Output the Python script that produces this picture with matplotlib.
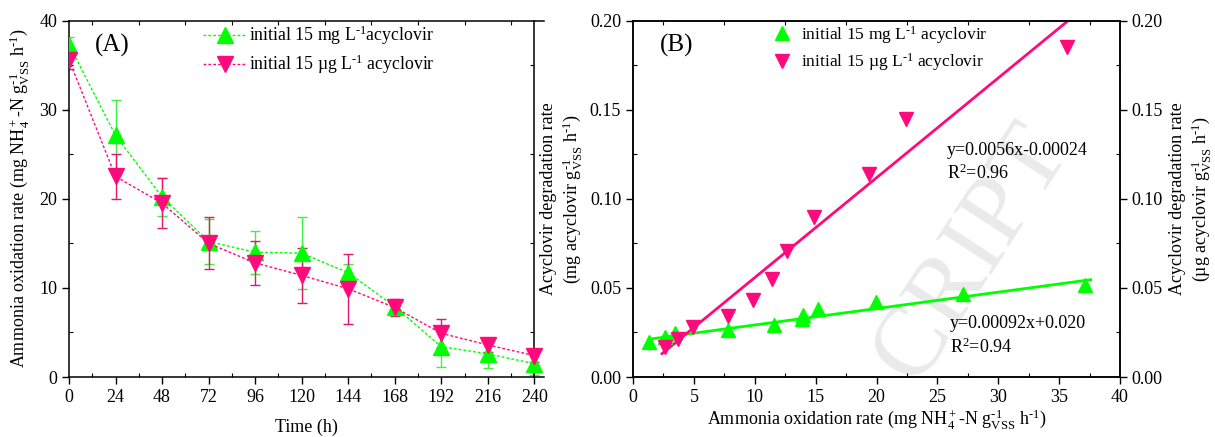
import numpy as np
import matplotlib
matplotlib.use("Agg")
import matplotlib.pyplot as plt
from matplotlib.ticker import MultipleLocator, FormatStrFormatter

plt.rcParams['font.family'] = ['Liberation Serif', 'DejaVu Serif']
plt.rcParams['mathtext.fontset'] = 'custom'
plt.rcParams['mathtext.rm'] = 'Liberation Serif'
plt.rcParams['mathtext.it'] = 'Liberation Serif:italic'
plt.rcParams['mathtext.bf'] = 'Liberation Serif:bold'

# ---------------- data ----------------
time_h = [0, 24, 48, 72, 96, 120, 144, 168, 192, 216, 240]
aor_mg = [37.3, 27.1, 20.2, 15.2, 14.0, 13.9, 11.7, 7.9, 3.4, 2.6, 1.5]
err_mg = [0.8, 4.0, 2.1, 2.5, 2.4, 4.0, 1.0, 0.7, 2.3, 1.6, 1.3]
aor_ug = [35.6, 22.5, 19.5, 15.0, 12.8, 11.4, 9.9, 7.8, 4.9, 3.6, 2.4]
err_ug = [1.0, 2.5, 2.8, 2.9, 2.5, 3.1, 3.9, 1.0, 1.6, 0.8, 0.7]

b_x_mg = [1.31, 2.66, 3.44, 7.80, 11.57, 13.85, 13.99, 15.23, 19.96, 27.07, 37.10]
b_y_mg = [0.0198, 0.0226, 0.0245, 0.0266, 0.0290, 0.0328, 0.0346, 0.0384, 0.0421, 0.0468, 0.0515]
b_x_ug = [2.63, 3.69, 4.93, 7.80, 9.86, 11.38, 12.67, 14.90, 19.36, 22.44, 35.65]
b_y_ug = [0.0170, 0.0211, 0.0279, 0.0341, 0.0434, 0.0552, 0.0708, 0.0895, 0.1140, 0.1450, 0.1850]

fit_mg = (0.00092, 0.020)     # slope, intercept
fit_ug = (0.0056, -0.00024)

GREEN = '#00ff00'
PINK = '#ff0a7d'
M1 = '$^{\\text{-1}}$'
VSS = 'g$_{\\rm VSS}^{\\text{-1}}$'

W, H = 1215, 437
fig = plt.figure(figsize=(W / 100, H / 100), dpi=100)

def px_ax(l, r, t, b):
    return fig.add_axes([l / W, 1 - b / H, (r - l) / W, (b - t) / H])

def style_ticks(ax):
    ax.tick_params(which='major', direction='out', length=5, width=1, labelsize=13,
                   top=False, right=False)
    ax.tick_params(which='minor', direction='in', length=3, width=0.8, top=False, right=False)
    for s in ax.spines.values():
        s.set_linewidth(1.1)

# ---------------- panel A ----------------
axA = px_ax(69, 544, 20.5, 377)
axA.plot(time_h, aor_mg, ls=(0, (2, 1.5)), lw=1, color=GREEN, marker='^', ms=11,
         mec=GREEN, label='initial 15 mg L' + M1 + 'acyclovir', zorder=3)
axA.errorbar(time_h, aor_mg, yerr=err_mg, fmt='none', ecolor='#44ee44', elinewidth=1,
             capsize=3.5, capthick=1, zorder=2)
axA.plot(time_h, aor_ug, ls=(0, (2, 1.5)), lw=1, color=PINK, marker='v', ms=11,
         mec=PINK, label='initial 15 µg L' + M1 + ' acyclovir', zorder=4)
axA.errorbar(time_h, aor_ug, yerr=err_ug, fmt='none', ecolor='#e0186e', elinewidth=1,
             capsize=3.5, capthick=1, zorder=2)
axA.set_xlim(0, 245)
axA.set_ylim(0, 40)
axA.spines['right'].set_position(('data', 240))
axA.xaxis.set_major_locator(MultipleLocator(24))
axA.xaxis.set_minor_locator(MultipleLocator(12))
axA.yaxis.set_major_locator(MultipleLocator(10))
axA.yaxis.set_minor_locator(MultipleLocator(5))
style_ticks(axA)
axA.tick_params(which='minor', top=True, right=True, direction='in')
axA.set_xlabel('Time (h)', fontsize=13, labelpad=9)
axA.set_ylabel('Ammonia oxidation rate (mg NH$_4^+$-N ' + VSS + ' h' + M1 + ')',
               fontsize=13, labelpad=6)
axA.text(0.055, 0.93, '(A)', transform=axA.transAxes, fontsize=18, va='center')
axA.legend(loc='upper left', bbox_to_anchor=(0.275, 1.0), frameon=False,
           fontsize=12.8, handlelength=2.4, handletextpad=0.2, borderpad=0.2,
           borderaxespad=0, labelspacing=0.3)

# ---------------- panel B ----------------
axB = px_ax(633, 1120, 20.5, 377)
axB.plot(b_x_mg, b_y_mg, ls='none', marker='^', ms=10, color=GREEN,
         label='initial 15 mg L' + M1 + ' acyclovir', zorder=3)
axB.plot(b_x_ug, b_y_ug, ls='none', marker='v', ms=10, color=PINK,
         label='initial 15 µg L' + M1 + ' acyclovir', zorder=3)
xg = np.array([min(b_x_mg), max(b_x_mg) + 0.5])
axB.plot(xg, fit_mg[0] * xg + fit_mg[1], color=GREEN, lw=2, zorder=2)
xu = np.array([min(b_x_ug) - 0.25, (0.2 - fit_ug[1]) / fit_ug[0]])
axB.plot(xu, fit_ug[0] * xu + fit_ug[1], color=PINK, lw=2, zorder=2)
axB.set_xlim(0, 40)
axB.set_ylim(0, 0.20)
axB.xaxis.set_major_locator(MultipleLocator(5))
axB.xaxis.set_minor_locator(MultipleLocator(2.5))
axB.yaxis.set_major_locator(MultipleLocator(0.05))
axB.yaxis.set_minor_locator(MultipleLocator(0.025))
axB.yaxis.set_major_formatter(FormatStrFormatter('%.2f'))
style_ticks(axB)
axB.tick_params(which='minor', axis='x', top=True, direction='in')
axB.set_xlabel('Ammonia oxidation rate (mg NH$_4^+$-N ' + VSS + ' h' + M1 + ')',
               fontsize=13, labelpad=1)
axB.set_ylabel('Acyclovir degradation rate\n(mg acyclovir ' + VSS + ' h' + M1 + ')',
               fontsize=13, labelpad=4, linespacing=1.2)
axB.text(0.055, 0.93, '(B)', transform=axB.transAxes, fontsize=18, va='center')
axB.legend(loc='upper left', bbox_to_anchor=(0.28, 1.0), frameon=False, fontsize=12.6,
           handlelength=1.0, handletextpad=0.6, borderpad=0.2, borderaxespad=0,
           labelspacing=0.3)
axB.text(25.8, 0.127, 'y=0.0056x-0.00024', fontsize=13, va='center')
axB.text(25.8, 0.114, 'R$^2$=0.96', fontsize=13, va='center')
axB.text(26.0, 0.030, 'y=0.00092x+0.020', fontsize=13, va='center')
axB.text(26.0, 0.0165, 'R$^2$=0.94', fontsize=13, va='center')

axB2 = axB.twinx()
axB2.set_ylim(0, 0.20)
axB2.yaxis.set_major_locator(MultipleLocator(0.05))
axB2.yaxis.set_minor_locator(MultipleLocator(0.025))
axB2.yaxis.set_major_formatter(FormatStrFormatter('%.2f'))
axB2.tick_params(which='major', direction='out', length=5, width=1, labelsize=13)
axB2.tick_params(which='minor', direction='in', length=3, width=0.8)
for s in axB2.spines.values():
    s.set_linewidth(1.1)
axB2.set_ylabel('Acyclovir degradation rate\n(µg acyclovir ' + VSS + ' h' + M1 + ')',
                fontsize=13, labelpad=4, linespacing=1.2)

# faint watermark
axB.text(0.80, 0.42, 'CRIPT', transform=fig.transFigure, rotation=57, fontsize=72,
         color='#eaeaea', ha='center', va='center', zorder=0, clip_on=False)

fig.savefig('out.png', dpi=100)
